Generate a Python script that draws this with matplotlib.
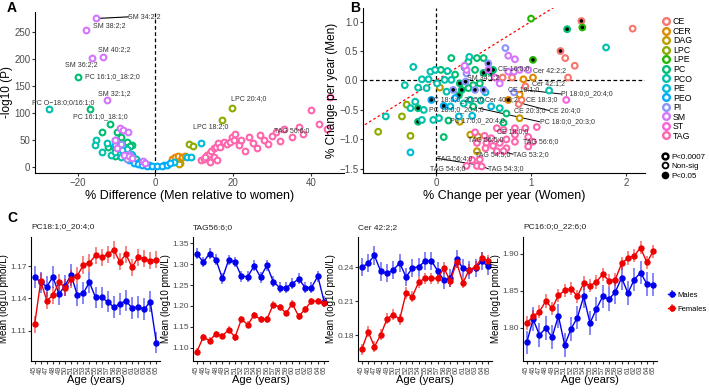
import matplotlib
matplotlib.use("Agg")
import matplotlib.pyplot as plt
from matplotlib.lines import Line2D

plt.rcParams['font.family'] = ['Liberation Sans', 'DejaVu Sans']

# lipid class colours (ggplot hue palette, 13 levels)
classes = ["CE", "CER", "DAG", "LPC", "LPE", "PC", "PCO", "PE", "PEO", "PI", "SM", "ST", "TAG"]
colors = ["#F8766D", "#E18A00", "#BE9C00", "#8CAB00", "#24B700", "#00BE70", "#00C1AB",
          "#00BBDA", "#00ACFC", "#8B93FF", "#D575FE", "#F962DD", "#FF65AC"]

# ---- panel A: % difference vs -log10(P)
a_cer = [(4.3, 14), (4.9, 18), (5.7, 20), (6.8, 19), (7.7, 20)]
a_dag = [(6.4, 7), (6.0, 5.5)]
a_lpc = [(8.5, 42), (9.7, 39), (17.1, 87), (19.7, 109)]
a_pc = [(-19.9, 167), (-16.8, 107), (-11.7, 79), (-13.7, 64), (-9.8, 65), (-9.0, 56), (-7.4, 47),
        (-6.0, 41), (-6.6, 39), (-12.2, 38), (-10.7, 38), (-7.7, 25), (-10.3, 20)]
a_pco = [(-27.4, 107), (-15.4, 50), (-15.6, 41), (-13.7, 27), (-11.5, 22), (-10.5, 28), (-9.4, 38),
         (-7.3, 33), (-6.0, 22), (-5.1, 14), (-4.3, 10), (-3.4, 7), (-9.0, 19), (-12.4, 44)]
a_pe = [(-8.5, 31), (-6.2, 24), (-3.8, 10), (-1.7, 4), (2.1, 3), (4.7, 9), (8.1, 19), (9.2, 19), (11.8, 44)]
a_peo = [(-10.3, 41), (-6.8, 13), (-5.6, 8), (-4.5, 6), (-3.4, 4), (-2.1, 2.5), (-0.9, 2), (0.4, 2.5),
         (1.7, 2.5), (3.0, 4), (3.8, 7)]
a_pi = [(-10.3, 51), (-8.8, 43), (-6.8, 24), (-7.4, 14)]
a_sm = [(-15.2, 275), (-17.8, 254), (-13.4, 204), (-16.4, 202), (-12.4, 124), (-9.1, 72), (-8.3, 69),
        (-7.0, 64), (-10.3, 50), (-9.8, 35), (-8.1, 22), (-6.8, 20), (-3.2, 12), (-2.6, 7), (-6.0, 16)]
a_tag = [(11.7, 13), (12.6, 14), (13.2, 22), (13.7, 25), (14.3, 30), (15.0, 35), (15.6, 38), (16.2, 45),
         (16.7, 38), (17.5, 47), (18.4, 43), (19.1, 47), (19.7, 56), (20.1, 50), (20.5, 62), (15.0, 19),
         (15.8, 13), (13.9, 10), (12.8, 19), (21.5, 40), (22, 50), (23, 30), (24, 55), (25, 45), (26, 35),
         (27, 60), (28, 50), (29, 42), (30, 58), (31, 65), (32, 48), (33, 70), (35, 55), (37, 75), (38, 62),
         (40, 105), (42, 80), (44, 70), (45, 130)]
a_labels = [("SM 34:2;2", -15.2, 275, -7.0, 278, "left"), ("SM 38:2;2", -17.8, 254, -16.0, 262, "left"),
            ("SM 40:2;2", -13.4, 204, -10.5, 217, "center"), ("SM 36:2;2", -16.4, 202, -19.2, 189, "center"),
            ("PC 16:1;0_18:2;0", -19.9, 167, -18.2, 167, "left"), ("SM 32:1;2", -12.4, 124, -10.7, 136, "center"),
            ("PC O\u221218:0;0/16:1;0", -27.4, 107, -23.7, 120, "center"),
            ("PC 16:1;0_18:1;0", -16.8, 107, -14.1, 93, "center"),
            ("LPC 18:2;0", 17.1, 87, 14.1, 75, "center"), ("LPC 20:4;0", 19.7, 109, 24.0, 127, "center"),
            ("TAG 56:6;0", 37, 75, 35, 68, "center")]

# ---- panel B: % change per year women vs men (x, y, filled)
b_ce = [(1.53, 1.01, 1), (1.31, 0.50, 1), (2.07, 0.88, 0), (1.46, 0.25, 0), (1.36, 0.38, 0), (1.39, 0.05, 0),
        (0.80, 0.05, 0), (0.94, -0.10, 0), (0.87, -0.40, 0), (0.90, -0.33, 0), (0.70, 0.05, 0)]
b_cer = [(1.02, 0.05, 0), (0.92, 0.02, 0), (0.88, -0.24, 0), (0.76, -0.33, 1)]
b_dag = [(0.04, -0.12, 0), (0.88, -0.64, 0), (0.25, -0.70, 0), (0.36, -0.92, 0), (0.44, -0.95, 0),
         (0.43, -1.20, 0)]
b_lpc = [(-0.31, -0.41, 0), (-0.36, -0.61, 0), (-0.61, -0.87, 0), (-0.27, -0.94, 0)]
b_lpe = [(1.00, 1.05, 0), (1.54, 0.90, 1), (1.02, 0.35, 1)]
b_pc = [(1.38, 0.87, 1), (0.16, 0.38, 0), (0.34, 0.32, 0), (0.43, 0.38, 0), (0.50, 0.38, 0), (0.41, 0.18, 0),
        (0.50, 0.13, 1), (0.58, 0.13, 1), (0.60, 0.18, 1), (0.25, -0.05, 1), (0.39, -0.08, 0), (0.24, -0.25, 1),
        (0.27, -0.16, 1), (0.34, -0.13, 0), (0.46, -0.05, 0), (0.39, -0.44, 0), (0.74, -0.56, 0),
        (0.71, -0.72, 0), (-0.19, -0.47, 1), (-0.19, -0.70, 1), (0.13, -0.68, 0), (0.08, -0.96, 0),
        (0.05, 0.18, 0), (0.20, 0.10, 0)]
b_pco = [(1.79, 0.56, 0), (1.19, -0.17, 0), (-0.24, 0.23, 0), (-0.33, -0.08, 0), (-0.15, 0.02, 0),
         (-0.06, 0.15, 0), (-0.01, 0.18, 0), (-0.08, 0.02, 0), (0.01, -0.05, 0), (0.09, 0.01, 0),
         (0.16, 0.01, 0), (0.12, 0.16, 0), (-0.10, -0.13, 0), (-0.19, -0.12, 0), (0.11, -0.19, 0),
         (0.29, -0.39, 0), (0.36, -0.33, 0), (0.47, -0.34, 0), (0.67, -0.47, 0), (-0.13, -0.50, 0),
         (-0.22, -0.36, 0), (-0.27, -0.47, 0), (-0.53, -0.61, 0), (-0.15, -0.67, 0), (-0.03, -0.67, 0),
         (0.03, -0.64, 0), (0.35, 0.40, 0), (0.30, 0.22, 0)]
b_pe = [(0.15, -0.44, 0), (0.58, -0.44, 0), (0.24, -0.61, 0), (0.38, -0.60, 0), (-0.27, -1.22, 0),
        (0.52, -0.20, 0)]
b_peo = [(-0.05, -0.33, 1), (0.08, -0.43, 1), (0.20, -0.30, 0)]
b_pi = [(0.73, 0.55, 0), (0.55, 0.29, 1), (0.32, 0.12, 0), (0.31, -0.02, 1), (0.41, -0.16, 1),
        (0.50, -0.16, 1), (0.18, -0.16, 1), (0.82, -0.20, 0)]
b_sm = [(0.76, 0.42, 0), (0.83, 0.36, 0), (0.55, 0.18, 1), (0.32, 0.18, 0), (0.67, -0.05, 0), (0.76, 0.15, 0),
        (0.82, 0.15, 0), (0.88, 0.18, 0), (0.97, 0.18, 0), (0.30, 0.25, 0)]
b_st = [(1.37, -0.33, 0), (0.62, 0.05, 0)]
b_tag = [(0.64, -0.81, 0), (0.41, -0.88, 0), (0.51, -0.94, 0), (0.71, -0.84, 0), (0.83, -0.81, 0),
         (0.94, -0.81, 0), (1.06, -0.79, 0), (0.83, -0.92, 0), (0.74, -1.00, 0), (0.67, -1.06, 0),
         (0.60, -1.11, 0), (0.53, -1.06, 0), (0.43, -1.06, 0), (0.52, -1.15, 0), (0.74, -1.15, 0),
         (0.83, -1.04, 0), (0.97, -0.96, 0), (1.02, -1.04, 0), (0.97, -1.12, 0), (0.46, -1.34, 0),
         (0.43, -1.45, 0), (0.32, -1.45, 0), (0.48, -1.46, 0), (0.38, -1.35, 0), (0.64, -1.20, 0),
         (0.71, -1.20, 0), (0.58, -0.98, 0)]
b_labels = [("CE 16:0;0", None, None, 0.65, 0.21), ("Cer 42:2;2", None, None, 1.02, 0.17),
            ("Cer 42:1;2", None, None, 1.01, -0.05), ("SM 34:1;2", None, None, 0.33, 0.05),
            ("CE 18:1;0", None, None, 0.76, -0.15), ("PI 18:0;0_20:4;0", 0.94, -0.16, 1.32, -0.23),
            ("PC 18:0;0_20:5;0", None, None, -0.08, -0.32), ("Cer 40:1;2", None, None, 0.52, -0.33),
            ("CE 18:3;0", None, None, 0.95, -0.33), ("PC 18:0;0_20:4;0", None, None, -0.08, -0.50),
            ("CE 20:3;0", None, None, 0.82, -0.51), ("CE 20:4;0", 0.88, -0.38, 1.19, -0.51),
            ("PC 17:0;0_20:4;0", None, None, 0.15, -0.68), ("PC 18:0;0_20:3;0", 0.45, -0.47, 1.09, -0.70),
            ("CE 18:0;0", None, None, 0.64, -0.87), ("TAG 56:5;0", None, None, 0.34, -1.01),
            ("TAG 56:6;0", None, None, 0.92, -1.04), ("TAG 54:5;0", None, None, 0.41, -1.25),
            ("TAG 53:2;0", 0.71, -1.21, 0.81, -1.25), ("TAG 56:4;0", 0.39, -1.42, 0.01, -1.32),
            ("TAG 54:4;0", None, None, -0.06, -1.50), ("TAG 54:3;0", 0.41, -1.40, 0.55, -1.50)]

# ---- panel C: mean by age
ages = list(range(45, 66))
c_titles = ["PC18:1;0_20:4;0", "TAG56:6;0", "Cer 42:2;2", "PC16:0;0_22:6;0"]
c_males = [
    [1.160, 1.155, 1.151, 1.160, 1.144, 1.152, 1.162, 1.143, 1.145, 1.155, 1.141, 1.141, 1.137, 1.132,
     1.135, 1.138, 1.131, 1.132, 1.130, 1.137, 1.099],
    [1.325, 1.305, 1.325, 1.311, 1.266, 1.310, 1.305, 1.271, 1.270, 1.296, 1.269, 1.297, 1.258, 1.244,
     1.244, 1.253, 1.265, 1.244, 1.244, 1.271, 1.210],
    [0.2400, 0.2439, 0.2506, 0.2364, 0.2348, 0.2379, 0.2439, 0.2315, 0.2394, 0.2406, 0.2455, 0.2461,
     0.2370, 0.2285, 0.2303, 0.2473, 0.2394, 0.2379, 0.2394, 0.2455, 0.2409],
    [1.7802, 1.8115, 1.7903, 1.7995, 1.7871, 1.8161, 1.7765, 1.7986, 1.8138, 1.8424, 1.8065, 1.8253,
     1.8424, 1.8387, 1.8484, 1.8677, 1.8470, 1.8654, 1.8747, 1.8594, 1.8585]]
c_females = [
    [1.116, 1.156, 1.138, 1.143, 1.155, 1.150, 1.158, 1.161, 1.171, 1.173, 1.180, 1.178, 1.181, 1.185,
     1.174, 1.181, 1.169, 1.178, 1.177, 1.175, 1.176],
    [1.090, 1.125, 1.117, 1.133, 1.128, 1.143, 1.125, 1.168, 1.155, 1.178, 1.168, 1.168, 1.203, 1.197,
     1.183, 1.205, 1.175, 1.192, 1.211, 1.212, 1.207],
    [0.1673, 0.1830, 0.1697, 0.1803, 0.1945, 0.1982, 0.1940, 0.2173, 0.2142, 0.2270, 0.2303, 0.2303,
     0.2303, 0.2394, 0.2279, 0.2445, 0.2264, 0.2379, 0.2406, 0.2485, 0.2461],
    [1.8065, 1.8157, 1.8217, 1.8364, 1.8263, 1.8438, 1.8507, 1.8530, 1.8424, 1.8608, 1.8571, 1.8622,
     1.8724, 1.8640, 1.8654, 1.8871, 1.8945, 1.8977, 1.9083, 1.8885, 1.9037]]
c_males_err = [0.010, 0.013, 0.008, 0.016]
c_females_err = [0.008, 0.008, 0.005, 0.009]
c_yticks = [[1.11, 1.14, 1.17], [1.10, 1.15, 1.20, 1.25, 1.30, 1.35], [0.18, 0.21, 0.24], [1.80, 1.85, 1.90]]
c_ylims = [(1.082, 1.197), (1.068, 1.365), (0.157, 0.267), (1.755, 1.923)]

W, H = 709, 392
fig = plt.figure(figsize=(W / 100, H / 100), dpi=100)


def box(l, t, r, b):
    return fig.add_axes([l / W, 1 - b / H, (r - l) / W, (b - t) / H])


def classic(ax, fs):
    for s in ["top", "right"]:
        ax.spines[s].set_visible(False)
    for s in ["left", "bottom"]:
        ax.spines[s].set_linewidth(0.8)
    ax.tick_params(labelsize=fs, length=2.2, width=0.8, pad=1.2, colors="#333333", labelcolor="#4d4d4d")


# ---------- A
axA = box(35, 12, 344, 173)
a_sets = [("CER", a_cer), ("DAG", a_dag), ("LPC", a_lpc), ("PC", a_pc), ("PCO", a_pco), ("PE", a_pe),
          ("PEO", a_peo), ("PI", a_pi), ("SM", a_sm), ("TAG", a_tag)]
for name, pts in a_sets:
    c = colors[classes.index(name)]
    axA.scatter([p[0] for p in pts], [p[1] for p in pts], s=17, facecolors="white",
                edgecolors=c, linewidths=1.5, zorder=3)
axA.axvline(0, color="black", ls="--", lw=0.9, dashes=(3, 2), zorder=1)
for txt, px, py, tx, ty, ha in a_labels:
    axA.text(tx, ty, txt, fontsize=5, ha=ha, va="center", color="#333333", zorder=4)
axA.plot([-15.2, -7.0], [275, 278], color="black", lw=0.8, zorder=2)
axA.set_xlim(-31, 48.5)
axA.set_ylim(-11, 287)
axA.set_xticks([-20, 0, 20, 40])
axA.set_yticks([0, 50, 100, 150, 200, 250])
classic(axA, 7)
axA.set_xlabel("% Difference (Men relative to women)", fontsize=9, labelpad=2)
axA.set_ylabel("-log10 (P)", fontsize=8.5, labelpad=0.5)
fig.text(12 / W, 1 - 8 / H, "A", fontsize=10, fontweight="bold", va="center", ha="center")

# ---------- B
axB = box(363, 8, 645, 173)
b_sets = [("CE", b_ce), ("CER", b_cer), ("DAG", b_dag), ("LPC", b_lpc), ("LPE", b_lpe), ("PC", b_pc),
          ("PCO", b_pco), ("PE", b_pe), ("PEO", b_peo), ("PI", b_pi), ("SM", b_sm), ("ST", b_st),
          ("TAG", b_tag)]
axB.axhline(0, color="black", ls="--", lw=0.9, dashes=(3, 2), zorder=1)
axB.axvline(0, color="black", ls="--", lw=0.9, dashes=(3, 2), zorder=1)
axB.plot([-0.75, 1.25], [-0.75, 1.25], color="red", ls="--", lw=0.9, dashes=(2, 2), zorder=1)
for name, pts in b_sets:
    c = colors[classes.index(name)]
    fc = ["black" if p[2] else "white" for p in pts]
    axB.scatter([p[0] for p in pts], [p[1] for p in pts], s=17, facecolors=fc,
                edgecolors=c, linewidths=1.5, zorder=3)
for txt, px, py, tx, ty in b_labels:
    axB.text(tx, ty, txt, fontsize=5, ha="left", va="center", color="#333333", zorder=4)
    if px is not None:
        axB.plot([px, tx], [py, ty], color="black", lw=0.7, zorder=2)
axB.set_xlim(-0.77, 2.2)
axB.set_ylim(-1.57, 1.23)
axB.set_xticks([0, 1, 2])
axB.set_yticks([-1.5, -1.0, -0.5, 0.0, 0.5, 1.0])
classic(axB, 7)
axB.set_xlabel("% Change per year (Women)", fontsize=9, labelpad=2)
axB.set_ylabel("% Change per year (Men)", fontsize=8.5, labelpad=1)
fig.text(355 / W, 1 - 8 / H, "B", fontsize=10, fontweight="bold", va="center", ha="center")

h1 = [Line2D([], [], ls="none", marker="o", ms=4.8, mfc="white", mec=c, mew=1.7) for c in colors]
leg1 = axB.legend(h1, classes, loc="upper left", bbox_to_anchor=(657 / W, 1 - 13 / H),
                  bbox_transform=fig.transFigure, frameon=False, fontsize=6.3, labelspacing=0.06,
                  handletextpad=0.3, handlelength=1.0, handleheight=0.9, borderpad=0)
axB.add_artist(leg1)
h2 = [Line2D([], [], ls="none", marker="o", ms=4.2, mfc="white", mec="black", mew=1.8),
      Line2D([], [], ls="none", marker="o", ms=4.2, mfc="white", mec="black", mew=1.3),
      Line2D([], [], ls="none", marker="o", ms=4.2, mfc="black", mec="black", mew=1.3)]
axB.legend(h2, ["P<0.0007", "Non-sig", "P<0.05"], loc="upper left", bbox_to_anchor=(657 / W, 1 - 149 / H),
           bbox_transform=fig.transFigure, frameon=False, fontsize=5.8, labelspacing=0.15,
           handletextpad=0.3, handlelength=1.0, handleheight=0.9, borderpad=0)

# ---------- C
lefts = [31, 193, 358, 523]
widths = [129, 135, 134, 134]
fig.text(12 / W, 1 - 218 / H, "C", fontsize=10, fontweight="bold", va="center", ha="center")
for i in range(4):
    ax = box(lefts[i], 237, lefts[i] + widths[i], 361)
    for vals, err, col, lab in [(c_males[i], c_males_err[i], "#0000EE", "Males"),
                                (c_females[i], c_females_err[i], "#EE0000", "Females")]:
        eb = ax.errorbar(ages, vals, yerr=err, color=col, ecolor=col, elinewidth=1.1,
                         lw=1.0, marker="o", ms=3.6, capsize=0, label=lab)
        eb[2][0].set_alpha(0.6)
    ax.set_xlim(44.4, 65.6)
    ax.set_ylim(*c_ylims[i])
    ax.set_xticks(ages)
    ax.set_xticklabels([str(a) for a in ages], rotation=90, fontsize=5.5)
    ax.set_yticks(c_yticks[i])
    ax.set_yticklabels(["%.2f" % v for v in c_yticks[i]])
    classic(ax, 6)
    ax.tick_params(axis="x", labelsize=5.5, pad=1)
    ax.tick_params(axis="y", pad=1.0, length=2)
    ax.set_xlabel("Age (years)", fontsize=8, labelpad=1)
    ax.set_ylabel("Mean (log10 pmol/L)", fontsize=7, labelpad=1)
    ax.set_title(c_titles[i], fontsize=6, loc="left", pad=6, color="#222222")
    if i == 3:
        ax.legend(loc="center left", bbox_to_anchor=(664 / W, 1 - 302 / H), bbox_transform=fig.transFigure,
                  frameon=False, fontsize=5.5, handlelength=1.0, handletextpad=0.3, labelspacing=0.9,
                  borderpad=0)

fig.savefig("out.png", dpi=100)
